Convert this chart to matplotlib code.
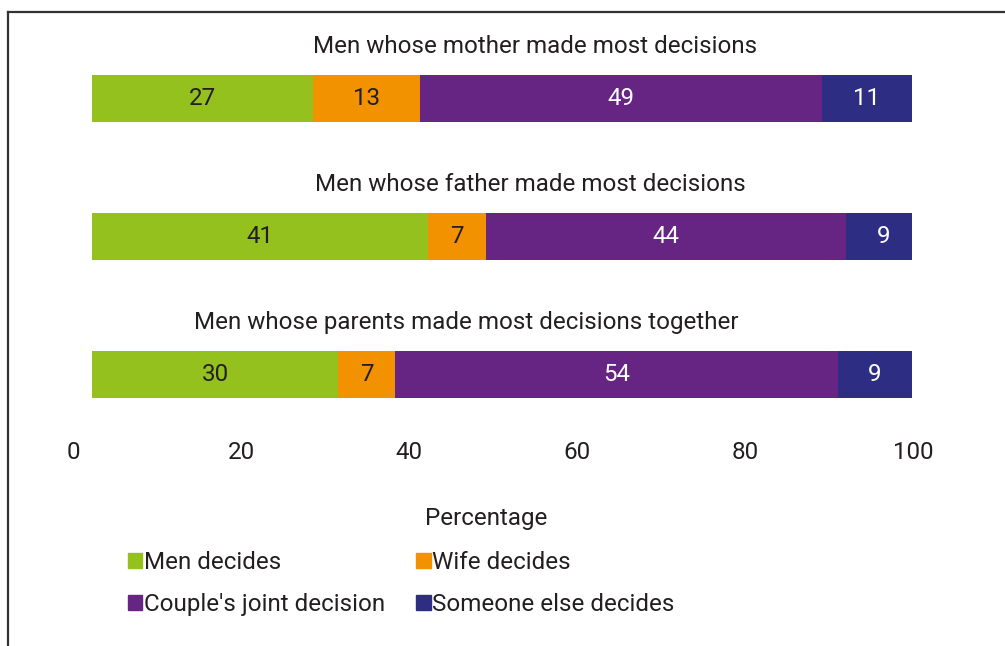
import matplotlib.pyplot as plt
from matplotlib.patches import Patch
import numpy as np

plt.rcParams['font.family'] = ['Roboto', 'DejaVu Sans']

# data
groups = ['Men whose mother made most decisions',
          'Men whose father made most decisions',
          'Men whose parents made most decisions together']
categories = ['Men decides', 'Wife decides', "Couple's joint decision", 'Someone else decides']
men_decides = [27, 41, 30]
wife_decides = [13, 7, 7]
joint_decision = [49, 44, 54]
someone_else = [11, 9, 9]
tick_values = [0, 20, 40, 60, 80, 100]

colors = ['#95c11f', '#f39200', '#662483', '#2d2e83']
label_colors = ['#231f20', '#231f20', 'white', 'white']
txt = '#231f20'
fs = 17.4

W, H = 1005, 646
fig = plt.figure(figsize=(W / 100, H / 100), dpi=100)

# frame lines (left and top)
fig.add_artist(plt.Line2D([8 / W, 8 / W], [0, 1 - 12 / H], color='#333333', lw=1.6))
fig.add_artist(plt.Line2D([8 / W, 1], [1 - 12 / H, 1 - 12 / H], color='#333333', lw=1.6))

# bars axes
ax = fig.add_axes([92 / W, 1 - 443.5 / H, 820 / W, 414 / H])
series = [men_decides, wife_decides, joint_decision, someone_else]
y = np.arange(len(groups))
left = np.zeros(len(groups))
for vals, c, lc, name in zip(series, colors, label_colors, categories):
    vals = np.array(vals, dtype=float)
    bars = ax.barh(y, vals, left=left, height=0.34, color=c, label=name)
    for yi, l, v in zip(y, left, vals):
        ax.text(l + v / 2, yi, f'{v:.0f}', ha='center', va='center',
                color=lc, fontsize=fs)
    left += vals

# group titles above each bar
title_x = [54.0, 53.4, 45.7]
for yi, g, tx in zip(y, groups, title_x):
    ax.text(tx, yi - 0.38, g, ha='center', va='center', fontsize=fs, color=txt)

ax.set_xlim(0, 100)
ax.set_ylim(2.5, -0.5)
ax.axis('off')

# value scale
ax2 = fig.add_axes([73 / W, 1 - 440 / H, 840 / W, 0.001])
ax2.set_xlim(0, 100)
ax2.set_xticks(tick_values)
ax2.set_yticks([])
ax2.tick_params(axis='x', length=0, labelsize=fs, labelcolor=txt, pad=1)
for s in ax2.spines.values():
    s.set_visible(False)

fig.text(486 / W, 1 - 518 / H, 'Percentage', ha='center', va='center',
         fontsize=fs, color=txt)

handles = [Patch(color=c) for c in colors]
order = [0, 2, 1, 3]
fig.legend([handles[i] for i in order], [categories[i] for i in order],
           ncol=2, loc='upper left', bbox_to_anchor=(128 / W, 1 - 551 / H),
           frameon=False, fontsize=fs, handlelength=0.58, handleheight=0.58,
           handletextpad=0.08, columnspacing=1.3, labelspacing=0.8,
           borderpad=0, borderaxespad=0, labelcolor=txt)

fig.savefig('out.png', dpi=100)
